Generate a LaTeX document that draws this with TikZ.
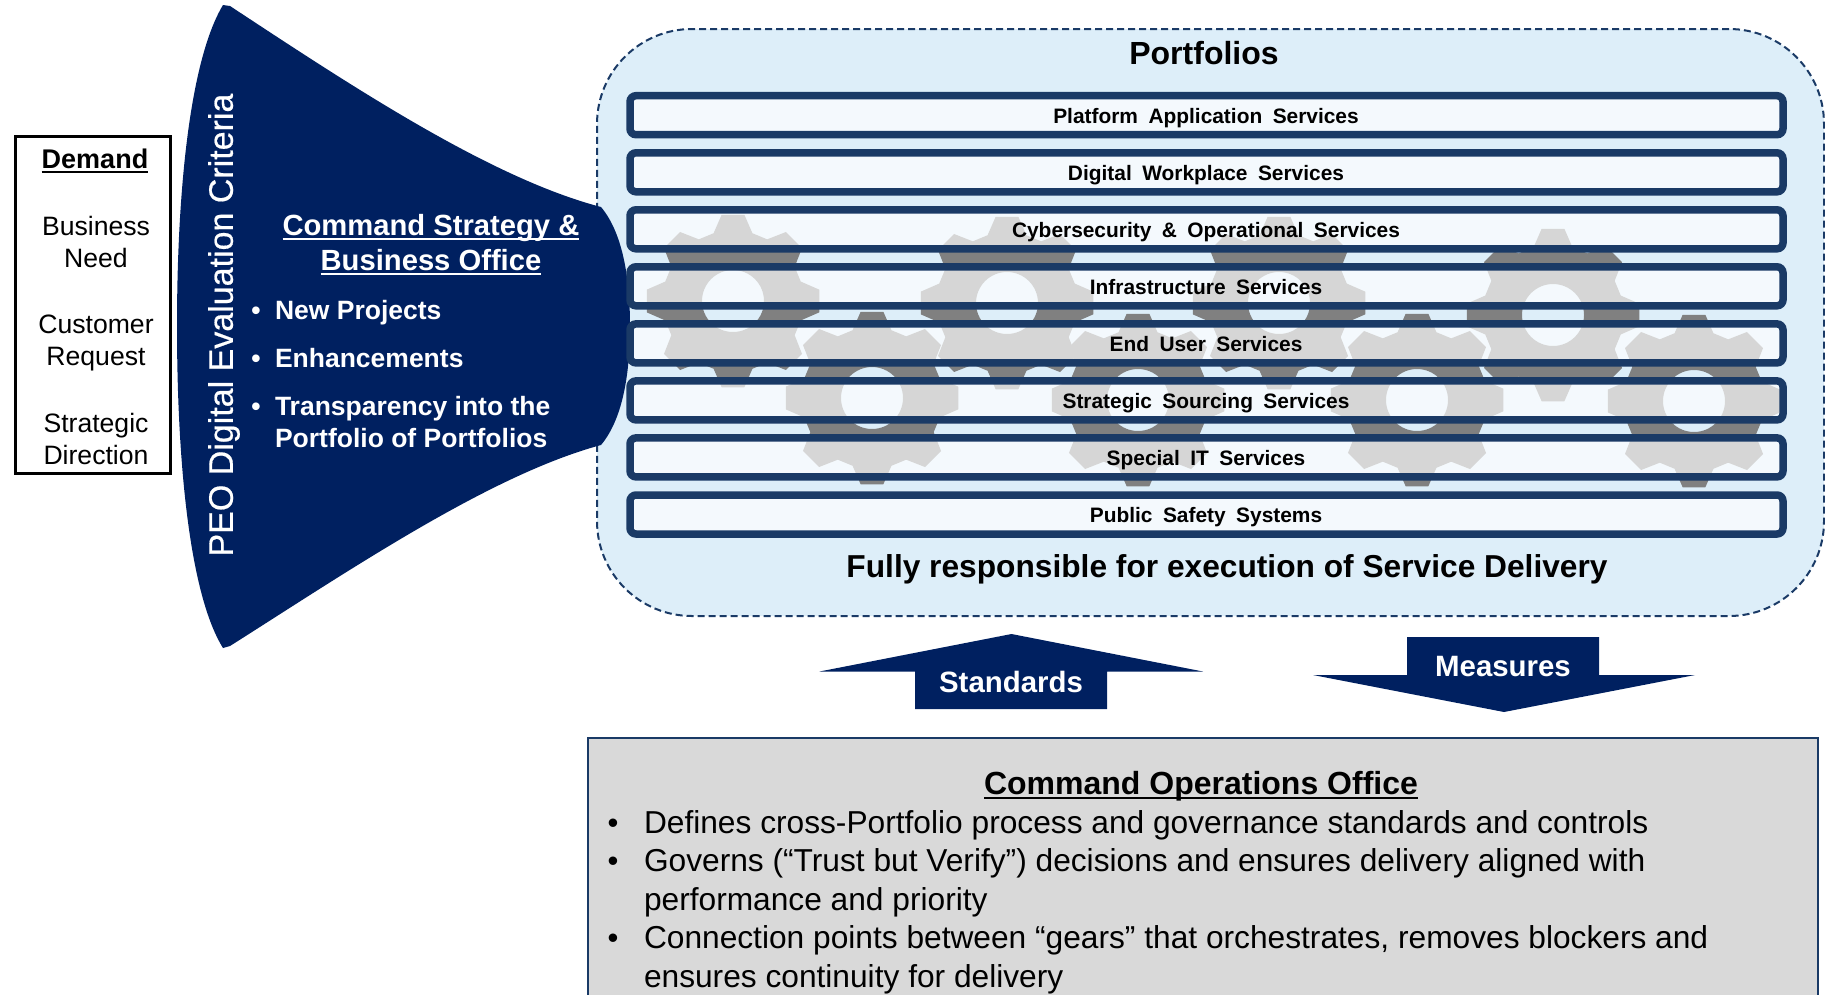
\documentclass[tikz,border=0pt]{standalone}
\usepackage{fontspec}
\setmainfont{Liberation Sans}
\newfontfamily\medfont[FakeBold=0.5]{Liberation Sans}
\definecolor{navy}{HTML}{002060}
\definecolor{barblue}{HTML}{1A3A66}
\definecolor{pale}{HTML}{DDEEF9}
\definecolor{panel}{HTML}{D9D9D9}
\definecolor{gearc}{HTML}{808080}
\newcommand\fs[1]{\fontsize{#1pt}{#1pt}\selectfont}
\newcommand\widesp{\setlength{\spaceskip}{0.5em}}
\newcommand\ulin[1]{\leavevmode\vtop{\hbox{\raisebox{0pt}[\height][0pt]{#1}}\kern 2.5pt\hrule height 2.4pt}}
\newcommand\gearat[2]{\fill[gearc,even odd rule,shift={(#1,#2)}] (-16:70.5) \foreach \a in {0,45,...,315} { -- (\a-16:70.5) -- (\a-7.5:87) -- (\a+7.5:87) -- (\a+16:70.5) } -- cycle (0:31) arc[start angle=0,end angle=360,radius=31];}
\tikzset{
  lbl/.style={inner sep=0pt,outer sep=0pt,anchor=base},
  lft/.style={inner sep=0pt,outer sep=0pt,anchor=base west},
  bartxt/.style={lbl,font=\fs{20.9}\bfseries\widesp},
  barbox/.style={draw=barblue,line width=7.5pt,fill=white,fill opacity=.68,rounded corners=6pt,minimum width=1153pt,minimum height=39pt,inner sep=0pt},
  wht/.style={text=white,font=\fs{26.5}\bfseries},
  blk/.style={font=\fs{26.6},align=center,inner sep=0pt},
  body/.style={lft,font=\fs{31.7}},
}
\begin{document}
\begin{tikzpicture}[x=1pt,y=-1pt]
\useasboundingbox (0,0) rectangle (1825,994);
\clip (0,0) rectangle (1825,994);
% portfolios container
\node[draw=barblue,dash pattern=on 7pt off 4pt,line width=2pt,fill=pale,rounded corners=95pt,minimum width=1227pt,minimum height=587pt,inner sep=0pt] (container) at (1210.5,322.5) {};
% funnel
\fill[navy] (223,5) .. controls (190,60) and (177,190) .. (177,326) .. controls (177,465) and (190,595) .. (223,648)
  -- (230,646) .. controls (350,570) and (490,475) .. (601,445) .. controls (622,420) and (630,376) .. (630,326) .. controls (630,276) and (622,232) .. (601,207) .. controls (490,178) and (350,85) .. (230,6) -- cycle;
% gears
\gearat{733}{301}\gearat{1007}{303}\gearat{872}{398}\gearat{1279}{303}
\gearat{1138}{400}\gearat{1417}{400}\gearat{1553}{315}\gearat{1694}{401}
% bars
\node[barbox] (b1) at (1206.5,115.2) {};
\node[barbox] (b2) at (1206.5,172.3) {};
\node[barbox] (b3) at (1206.5,229.3) {};
\node[barbox] (b4) at (1206.5,286.3) {};
\node[barbox] (b5) at (1206.5,343.4) {};
\node[barbox] (b6) at (1206.5,400.4) {};
\node[barbox] (b7) at (1206.5,457.4) {};
\node[barbox] (b8) at (1206.5,514.5) {};
\node[bartxt] (t1) at (1206,123.2) {Platform Application Services};
\node[bartxt] (t2) at (1206,180.3) {Digital Workplace Services};
\node[bartxt] (t3) at (1206,237.3) {Cybersecurity \& Operational Services};
\node[bartxt] (t4) at (1206,294.3) {Infrastructure Services};
\node[bartxt] (t5) at (1206,351.4) {End User Services};
\node[bartxt] (t6) at (1206,408.4) {Strategic Sourcing Services};
\node[bartxt] (t7) at (1206,465.4) {Special IT Services};
\node[bartxt] (t8) at (1206,522.5) {Public Safety Systems};
\node[lbl,font=\fs{32}\bfseries] (ptitle) at (1204,64) {Portfolios};
\node[lbl,font=\fs{31.7}\bfseries] (pfoot) at (1227,577) {Fully responsible for execution of Service Delivery};
% demand
\node[draw=black,line width=2.2pt,minimum width=155pt,minimum height=337pt,inner sep=0pt] (demand) at (93,305) {};
\node[lbl,font=\fs{27}\bfseries] (dh) at (95,168) {\ulin{Demand}};
\node[blk] (d1) at (96,242) {Business\\[5.5pt]Need};
\node[blk] (d2) at (96,343) {Customer\\[5.5pt]Request};
\node[blk] (d3) at (96,439) {Strategic\\[5.5pt]Direction};
% funnel text
\node[text=white,font=\medfont\fs{34},inner sep=0pt,rotate=90] (peo) at (224,325) {PEO Digital Evaluation Criteria};
\node[lbl,text=white,font=\fs{29.2}\bfseries] (c1) at (431,235) {\ulin{Command Strategy \&}};
\node[lbl,text=white,font=\fs{29.2}\bfseries] (c2) at (431,270) {\ulin{Business Office}};
\node[lft,wht] (w1) at (275,319) {New Projects};
\node[lft,wht] (w2) at (275,367) {Enhancements};
\node[lft,wht] (w3) at (275,415) {Transparency into the};
\node[lft,wht] (w4) at (275,447) {Portfolio of Portfolios};
\node[lbl,wht] (wb1) at (256,319) {•};
\node[lbl,wht] (wb2) at (256,367) {•};
\node[lbl,wht] (wb3) at (256,415) {•};
% arrows
\fill[navy] (1011.5,634) -- (1203,671.5) -- (1107,671.5) -- (1107,709) -- (915,709) -- (915,671.5) -- (819.5,671.5) -- cycle;
\node[lbl,text=white,font=\fs{29.4}\bfseries] (std) at (1011,692) {Standards};
\fill[navy] (1504,712) -- (1695,675) -- (1599,675) -- (1599,637) -- (1407,637) -- (1407,675) -- (1313,675) -- cycle;
\node[lbl,text=white,font=\fs{29.4}\bfseries] (mes) at (1503,676) {Measures};
% command operations office
\node[draw=barblue,line width=2pt,fill=panel,minimum width=1230pt,minimum height=300pt,inner sep=0pt,anchor=north west] (ops) at (587,737) {};
\node[lbl,font=\fs{32}\bfseries] (oh) at (1201,794) {\ulin{Command Operations Office}};
\node[body] (o1) at (644,833) {Defines cross-Portfolio process and governance standards and controls};
\node[body] (o2) at (644,871) {Governs (“Trust but Verify”) decisions and ensures delivery aligned with};
\node[body] (o3) at (644,910) {performance and priority};
\node[body] (o4) at (644,948) {Connection points between “gears” that orchestrates, removes blockers and};
\node[body] (o5) at (644,987) {ensures continuity for delivery};
\node[lbl,font=\fs{31}] (ob1) at (613,833) {•};
\node[lbl,font=\fs{31}] (ob2) at (613,871) {•};
\node[lbl,font=\fs{31}] (ob3) at (613,948) {•};
\end{tikzpicture}
\end{document}
